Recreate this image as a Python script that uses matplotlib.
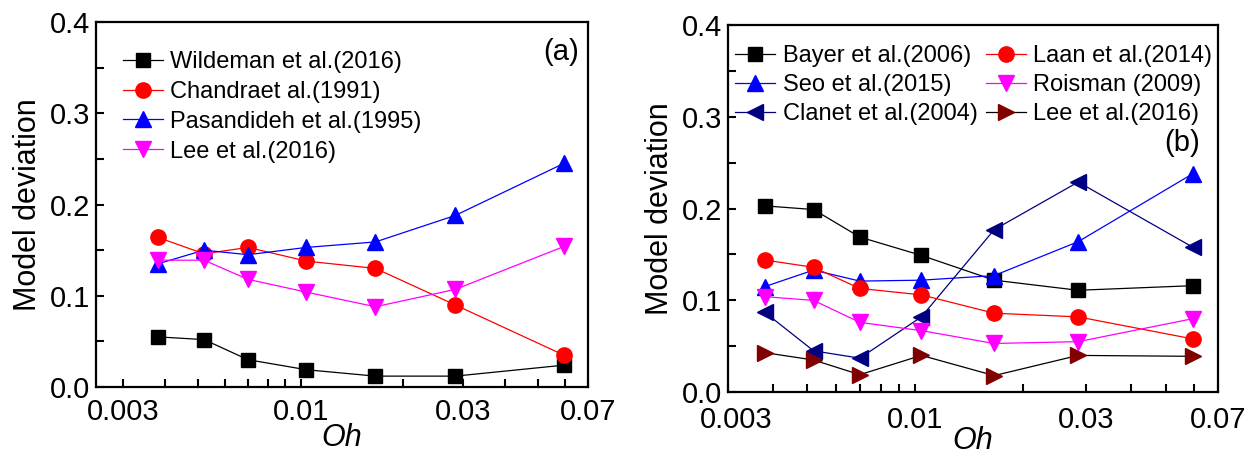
import numpy as np
import matplotlib
matplotlib.use("Agg")
import matplotlib.pyplot as plt
import matplotlib.transforms as mtransforms
from matplotlib.ticker import FixedLocator, NullFormatter, FixedFormatter

plt.rcParams['font.family'] = ['Liberation Sans', 'DejaVu Sans']

# Ohnesorge numbers shared by both panels
oh = [0.0038, 0.0052, 0.0070, 0.0104, 0.0166, 0.0285, 0.0595]

# panel (a)
wildeman = [0.055, 0.052, 0.030, 0.019, 0.012, 0.012, 0.024]
chandra = [0.164, 0.146, 0.153, 0.138, 0.130, 0.090, 0.035]
pasandideh = [0.135, 0.150, 0.145, 0.153, 0.159, 0.188, 0.245]
lee_a = [0.139, 0.139, 0.118, 0.104, 0.088, 0.107, 0.154]

# panel (b)
bayer = [0.203, 0.199, 0.169, 0.149, 0.122, 0.111, 0.116]
laan = [0.144, 0.136, 0.113, 0.106, 0.086, 0.082, 0.058]
seo = [0.115, 0.133, 0.121, 0.122, 0.127, 0.164, 0.238]
roisman = [0.104, 0.100, 0.076, 0.067, 0.053, 0.055, 0.080]
clanet = [0.087, 0.045, 0.037, 0.082, 0.177, 0.229, 0.158]
lee_b = [0.043, 0.035, 0.019, 0.040, 0.018, 0.040, 0.039]

xticks = [0.003, 0.01, 0.03, 0.07]
xtick_labels = ['0.003', '0.01', '0.03', '0.07']
xminor = [0.004, 0.005, 0.006, 0.007, 0.008, 0.009, 0.02, 0.04, 0.05, 0.06]

fig = plt.figure(figsize=(12.58, 4.57), dpi=100)
ax1 = fig.add_axes([0.0763, 0.153, 0.391, 0.799])
ax2 = fig.add_axes([0.5787, 0.142, 0.3895, 0.803])

ms = 10
lw = 0.9


def style_axes(ax, xlim, xpad, xlabelpad):
    ax.set_xscale('log')
    ax.set_xlim(*xlim)
    ax.set_ylim(0, 0.4)
    ax.xaxis.set_major_locator(FixedLocator(xticks))
    ax.xaxis.set_major_formatter(FixedFormatter(xtick_labels))
    ax.xaxis.set_minor_locator(FixedLocator(xminor))
    ax.xaxis.set_minor_formatter(NullFormatter())
    ax.set_yticks([0.0, 0.1, 0.2, 0.3, 0.4])
    ax.set_yticklabels(['0.0', '0.1', '0.2', '0.3', '0.4'])
    ax.set_yticks([0.05, 0.15, 0.25, 0.35], minor=True)
    ax.tick_params(which='both', direction='in', length=5.5, width=1.5,
                   top=False, right=False, labelsize=21)
    ax.tick_params(axis='x', which='major', pad=xpad)
    ax.tick_params(axis='y', which='major', pad=4)
    for s in ax.spines.values():
        s.set_linewidth(1.6)
    ax.set_xlabel('Oh', fontsize=22, style='italic', labelpad=xlabelpad)
    ax.set_ylabel('Model deviation', fontsize=22, labelpad=5)


# (a)
ax1.plot(oh, wildeman, '-s', color='black', lw=lw, ms=ms, label='Wildeman et al.(2016)')
ax1.plot(oh, chandra, '-o', color='red', lw=lw, ms=ms + 1, label='Chandraet al.(1991)')
ax1.plot(oh, pasandideh, '-^', color='blue', lw=lw, ms=ms + 1, label='Pasandideh et al.(1995)')
ax1.plot(oh, lee_a, '-v', color='magenta', lw=lw, ms=ms + 1, label='Lee et al.(2016)')
style_axes(ax1, (0.0025, 0.07), 8, -2)
ax1.legend(loc='upper left', bbox_to_anchor=(0.055, 0.92), frameon=False,
           fontsize=17, borderpad=0, borderaxespad=0, labelspacing=0.33,
           handlelength=1.7, handletextpad=0.3)
ax1.text(0.945, 0.918, '(a)', transform=ax1.transAxes, fontsize=21,
         ha='center', va='center')

# (b)
ax2.plot(oh, bayer, '-s', color='black', lw=lw, ms=ms, label='Bayer et al.(2006)')
ax2.plot(oh, seo, '-^', color='blue', lw=lw, ms=ms + 1, label='Seo et al.(2015)')
ax2.plot(oh, clanet, '-<', color='#000080', lw=lw, ms=ms + 1, label='Clanet et al.(2004)')
ax2.plot(oh, laan, '-o', color='red', lw=lw, ms=ms + 1, label='Laan et al.(2014)')
ax2.plot(oh, roisman, '-v', color='magenta', lw=lw, ms=ms + 1, label='Roisman (2009)')
ax2.plot(oh, lee_b, '->', color='black', mfc='#800000', mec='#800000', lw=lw,
         ms=ms + 1, label='Lee et al.(2016)')
style_axes(ax2, (0.003, 0.07), 10, -6)
ax2.legend(loc='upper left', bbox_to_anchor=(0.015, 0.945), frameon=False, ncol=2,
           fontsize=17, borderpad=0, borderaxespad=0, labelspacing=0.3,
           handlelength=1.7, handletextpad=0.3, columnspacing=0.35)
ax2.text(0.927, 0.678, '(b)', transform=ax2.transAxes, fontsize=21,
         ha='center', va='center')

# the first x label of panel (b) sits a little right of the spine
shift = mtransforms.ScaledTranslation(8 / 100, 0, fig.dpi_scale_trans)
first = ax2.get_xticklabels()[0]
first.set_transform(first.get_transform() + shift)

fig.savefig('out.png', dpi=100)
